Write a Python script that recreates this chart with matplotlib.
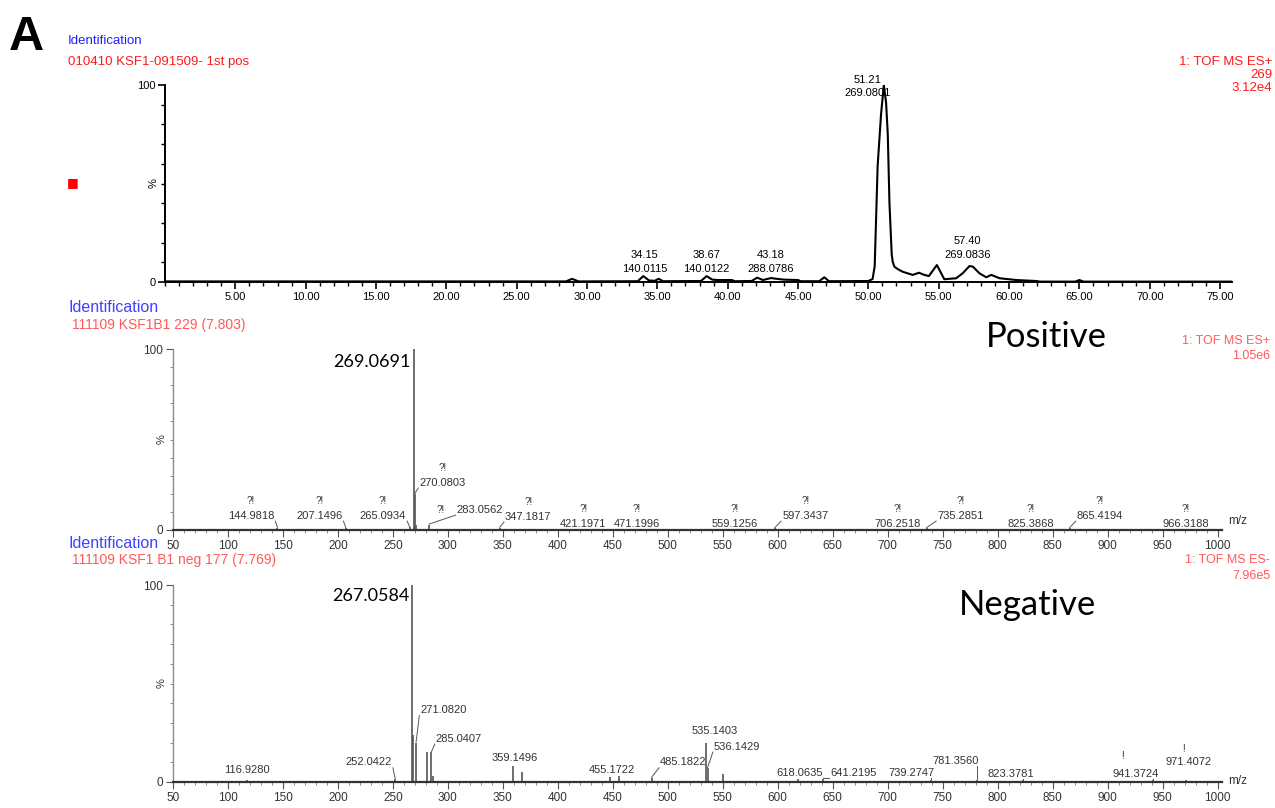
import numpy as np
import matplotlib.pyplot as plt
from matplotlib.ticker import MultipleLocator, FixedLocator

W, H = 1275, 808
SANS = ['Liberation Sans', 'DejaVu Sans']
BIG = ['Lato', 'DejaVu Sans']

# --- chromatogram (retention time, % of base peak) ---
chrom_time = [0.0, 28.5, 28.94, 29.4, 33.6, 34.0, 34.4, 34.8, 35.1, 35.4,
              38.1, 38.5, 38.9, 39.3, 40.3, 40.5, 41.7, 42.1, 42.5, 42.8,
              43.07, 43.5, 44.0, 45.0, 45.2, 46.5, 46.87, 47.2, 50.0, 50.3,
              50.45, 50.66, 50.9, 51.1, 51.26, 51.38, 51.5, 51.66, 51.73, 51.85,
              52.1, 52.44, 53.15, 53.6, 53.9, 54.3, 54.87, 55.4, 56.24, 56.7,
              57.19, 57.43, 57.9, 58.38, 58.74, 59.33, 60.52, 61.95, 62.2, 64.7,
              65.0, 65.3, 75.9]
chrom_int = [0.3, 0.3, 1.6, 0.3, 0.4, 3.0, 0.8, 0.6, 1.6, 0.4,
             0.5, 3.0, 1.2, 1.0, 1.0, 0.4, 0.5, 2.2, 1.0, 1.5,
             2.0, 1.6, 1.2, 1.0, 0.4, 0.4, 2.4, 0.4, 0.5, 1.5,
             8.0, 59.0, 85.0, 100.0, 91.0, 75.0, 40.0, 14.0, 10.3, 7.8,
             6.5, 5.2, 3.6, 4.7, 3.8, 3.0, 8.6, 1.4, 1.9, 4.4,
             8.1, 7.8, 4.4, 2.4, 3.6, 1.9, 1.0, 0.5, 0.2, 0.2,
             1.0, 0.2, 0.2]
chrom_labels = ["34.15\n140.0115", "38.67\n140.0122", "43.18\n288.0786",
                "51.21\n269.0801", "57.40\n269.0836"]
chrom_lab_x = [34.1, 38.5, 43.07, 49.96, 57.07]
chrom_lab_y = [10.2, 10.2, 10.2, 99.2, 17.3]

# --- positive mode spectrum ---
pos_mz = [144.9818, 207.1496, 265.0934, 269.0691, 270.0803, 271.08, 283.0562,
          347.1817, 421.1971, 471.1996, 559.1256, 597.3437, 706.2518,
          735.2851, 825.3868, 865.4194, 966.3188]
pos_int = [1.2, 1.0, 1.5, 100, 20, 3, 3, 1.2, 0.8, 0.8, 0.8, 1.0, 0.8,
           1.0, 0.8, 1.0, 0.8]
pos_labels = ["144.9818", "207.1496", "265.0934", "270.0803", "283.0562",
              "347.1817", "421.1971", "471.1996", "559.1256", "597.3437",
              "706.2518", "735.2851", "825.3868", "865.4194", "966.3188"]
pos_lab_peak = [144.9818, 207.1496, 265.0934, 270.0803, 283.0562, 347.1817,
                421.1971, 471.1996, 559.1256, 597.3437, 706.2518, 735.2851,
                825.3868, 865.4194, 966.3188]
pos_lab_x = [121, 183, 241, 295, 329, 373, 423, 472, 561, 625, 709, 766, 830, 893, 971]
pos_lab_y = [7.7, 7.7, 7.7, 26, 11, 7.2, 3.3, 3.3, 3.3, 7.7, 3.3, 7.7, 3.3, 7.7, 3.3]

# --- negative mode spectrum ---
neg_mz = [116.928, 252.0422, 267.0584, 268.06, 271.082, 281.0, 285.0407, 286.04,
          359.1496, 367.1, 447.2, 455.1722, 485.1822, 535.1403, 536.1429, 550.2,
          618.0635, 641.2195, 739.2747, 781.356, 823.3781, 941.3724, 971.4072]
neg_int = [1.0, 1.5, 100, 24, 20, 15, 15, 3, 8, 5, 2.5, 3, 2, 20, 7, 4,
           1.5, 1.5, 1, 1, 1, 1, 1]
neg_labels = ["116.9280", "252.0422", "271.0820", "285.0407", "359.1496",
              "455.1722", "485.1822", "535.1403", "536.1429", "618.0635",
              "641.2195", "739.2747", "781.3560", "823.3781", "941.3724", "971.4072"]
neg_lab_peak = [116.928, 252.0422, 271.082, 285.0407, 359.1496, 455.1722,
                485.1822, 535.1403, 536.1429, 618.0635, 641.2195, 739.2747,
                781.356, 823.3781, 941.3724, 971.4072]
neg_lab_x = [117, 228, 296, 310, 361, 449, 514, 543, 563, 620, 669, 722, 762, 812, 925, 974]
neg_lab_y = [6, 10, 36.5, 22, 12, 6, 10, 26, 18, 4.6, 4.6, 4.6, 10.7, 4, 4, 10]


def ftext(x, y, s, **kw):
    kw.setdefault('family', SANS)
    fig.text(x / W, 1 - y / H, s, **kw)


def spec_axes(rect):
    ax = fig.add_axes(rect)
    ax.set_xlim(50, 1004)
    ax.set_ylim(0, 100)
    for s in ['top', 'right']:
        ax.spines[s].set_visible(False)
    ax.spines['bottom'].set_color('#333333')
    ax.spines['bottom'].set_linewidth(1.6)
    ax.spines['left'].set_color('#8a8a8a')
    ax.spines['left'].set_linewidth(1.0)
    ax.xaxis.set_major_locator(MultipleLocator(50))
    ax.xaxis.set_minor_locator(MultipleLocator(10))
    ax.yaxis.set_major_locator(FixedLocator([0, 100]))
    ax.yaxis.set_minor_locator(MultipleLocator(10))
    ax.tick_params(axis='both', which='major', length=5, color='#555555',
                   labelsize=8.5, labelcolor='#333333', pad=2)
    ax.tick_params(axis='both', which='minor', length=2.5, color='#777777')
    for lab in ax.get_xticklabels() + ax.get_yticklabels():
        lab.set_family(SANS)
    ax.text(-0.006, 0.5, '%', rotation=90, transform=ax.transAxes,
            ha='right', va='center', fontsize=8, color='#333333', family=SANS)
    return ax


def leader(ax, peak, h, lx, ly):
    # short line from label to its peak
    if abs(lx - peak) < 10:
        return
    sx = lx + np.clip(peak - lx, -22, 22)
    ax.plot([sx, peak], [ly - 2.8, h + 0.3], color='#555555', lw=0.7)


fig = plt.figure(figsize=(W / 100, H / 100), dpi=100)

# ---------------- top: chromatogram ----------------
ax1 = fig.add_axes([165 / W, 1 - 282 / H, (1232 - 165) / W, (282 - 85) / H])
ax1.plot(chrom_time, chrom_int, color='black', lw=1.5)
ax1.set_xlim(0, 75.85)
ax1.set_ylim(0, 100)
for s in ['top', 'right']:
    ax1.spines[s].set_visible(False)
for s in ['left', 'bottom']:
    ax1.spines[s].set_linewidth(1.4)
ax1.xaxis.set_major_locator(FixedLocator(np.arange(5, 76, 5)))
ax1.xaxis.set_minor_locator(MultipleLocator(1))
ax1.set_xticklabels(["%.2f" % v for v in np.arange(5, 76, 5)])
ax1.yaxis.set_major_locator(FixedLocator([0, 100]))
ax1.yaxis.set_minor_locator(MultipleLocator(10))
ax1.tick_params(axis='both', which='major', length=5, width=1.2, labelsize=8, pad=2)
ax1.tick_params(axis='both', which='minor', length=3, width=1.0)
for lab in ax1.get_xticklabels() + ax1.get_yticklabels():
    lab.set_family(SANS)
ax1.text(-0.006, 0.5, '%', rotation=90, transform=ax1.transAxes,
         ha='right', va='center', fontsize=8, family=SANS)
for s, x, y in zip(chrom_labels, chrom_lab_x, chrom_lab_y):
    ax1.text(x, y, s, ha='center', va='center', fontsize=8, family=SANS,
             linespacing=1.45)

# ---------------- middle: positive ----------------
ax2 = spec_axes([173 / W, 1 - 530 / H, (1222 - 173) / W, (530 - 349) / H])
ax2.vlines(pos_mz, 0, pos_int, color='#555555', lw=1.2)
for s, pk, x, y in zip(pos_labels, pos_lab_peak, pos_lab_x, pos_lab_y):
    h = pos_int[pos_mz.index(pk)]
    ax2.text(x, y, s, ha='center', va='center', fontsize=8, color='#333333', family=SANS)
    if s == "283.0562":
        ax2.text(x - 36, y, "?!", ha='center', va='center', fontsize=7,
                 color='#333333', family=SANS)
    else:
        ax2.text(x, y + 8.3, "?!", ha='center', va='center', fontsize=7,
                 color='#333333', family=SANS)
    leader(ax2, pk, h, x, y)
ax2.text(265.7, 92.8, "269.0691", ha='right', va='center', fontsize=13, family=BIG)

# ---------------- bottom: negative ----------------
ax3 = spec_axes([173 / W, 1 - 782 / H, (1222 - 173) / W, (782 - 585) / H])
ax3.vlines(neg_mz, 0, neg_int, color='#555555', lw=1.2)
for s, pk, x, y in zip(neg_labels, neg_lab_peak, neg_lab_x, neg_lab_y):
    h = neg_int[neg_mz.index(pk)]
    ax3.text(x, y, s, ha='center', va='center', fontsize=8, color='#333333', family=SANS)
    leader(ax3, pk, h, x, y)
ax3.text(913.5, 13, "!", ha='center', va='center', fontsize=7, color='#333333', family=SANS)
ax3.text(969, 17, "!", ha='center', va='center', fontsize=7, color='#333333', family=SANS)
ax3.text(264.7, 94.4, "267.0584", ha='right', va='center', fontsize=13, family=BIG)

# ---------------- header / annotation texts ----------------
ftext(9, 37, "A", fontsize=35, fontweight='bold', va='center', ha='left')
ftext(68, 41, "Identification", fontsize=9.5, color='#2020ff', va='center')
ftext(68, 62, "010410 KSF1-091509- 1st pos", fontsize=9.5, color='#ff1a1a', va='center')
ftext(1272, 62, "1: TOF MS ES+", fontsize=9.5, color='#ff1a1a', va='center', ha='right')
ftext(1272, 75, "269", fontsize=9.5, color='#ff1a1a', va='center', ha='right')
ftext(1272, 88, "3.12e4", fontsize=9.5, color='#ff1a1a', va='center', ha='right')
ftext(73, 183, "\u25a0", fontsize=9, color='#ff0000', va='center', ha='center',
      family=['DejaVu Sans'])

ftext(68, 307, "Identification", fontsize=11.5, color='#4040ff', va='center')
ftext(72, 325, "111109 KSF1B1 229 (7.803)", fontsize=10, color='#ff5a5a', va='center')
ftext(1270, 341, "1: TOF MS ES+", fontsize=9, color='#ff5a5a', va='center', ha='right')
ftext(1270, 356, "1.05e6", fontsize=9, color='#ff5a5a', va='center', ha='right')
ftext(1046, 337, "Positive", fontsize=25, va='center', ha='center', family=BIG)
ftext(1228, 521, "m/z", fontsize=8.5, color='#333333', va='center')

ftext(68, 543, "Identification", fontsize=11.5, color='#4040ff', va='center')
ftext(72, 560, "111109 KSF1 B1 neg 177 (7.769)", fontsize=10, color='#ff5a5a', va='center')
ftext(1270, 560, "1: TOF MS ES-", fontsize=9, color='#ff5a5a', va='center', ha='right')
ftext(1270, 576, "7.96e5", fontsize=9, color='#ff5a5a', va='center', ha='right')
ftext(1027, 605, "Negative", fontsize=25, va='center', ha='center', family=BIG)
ftext(1228, 781, "m/z", fontsize=8.5, color='#333333', va='center')

fig.savefig("out.png", dpi=100)
